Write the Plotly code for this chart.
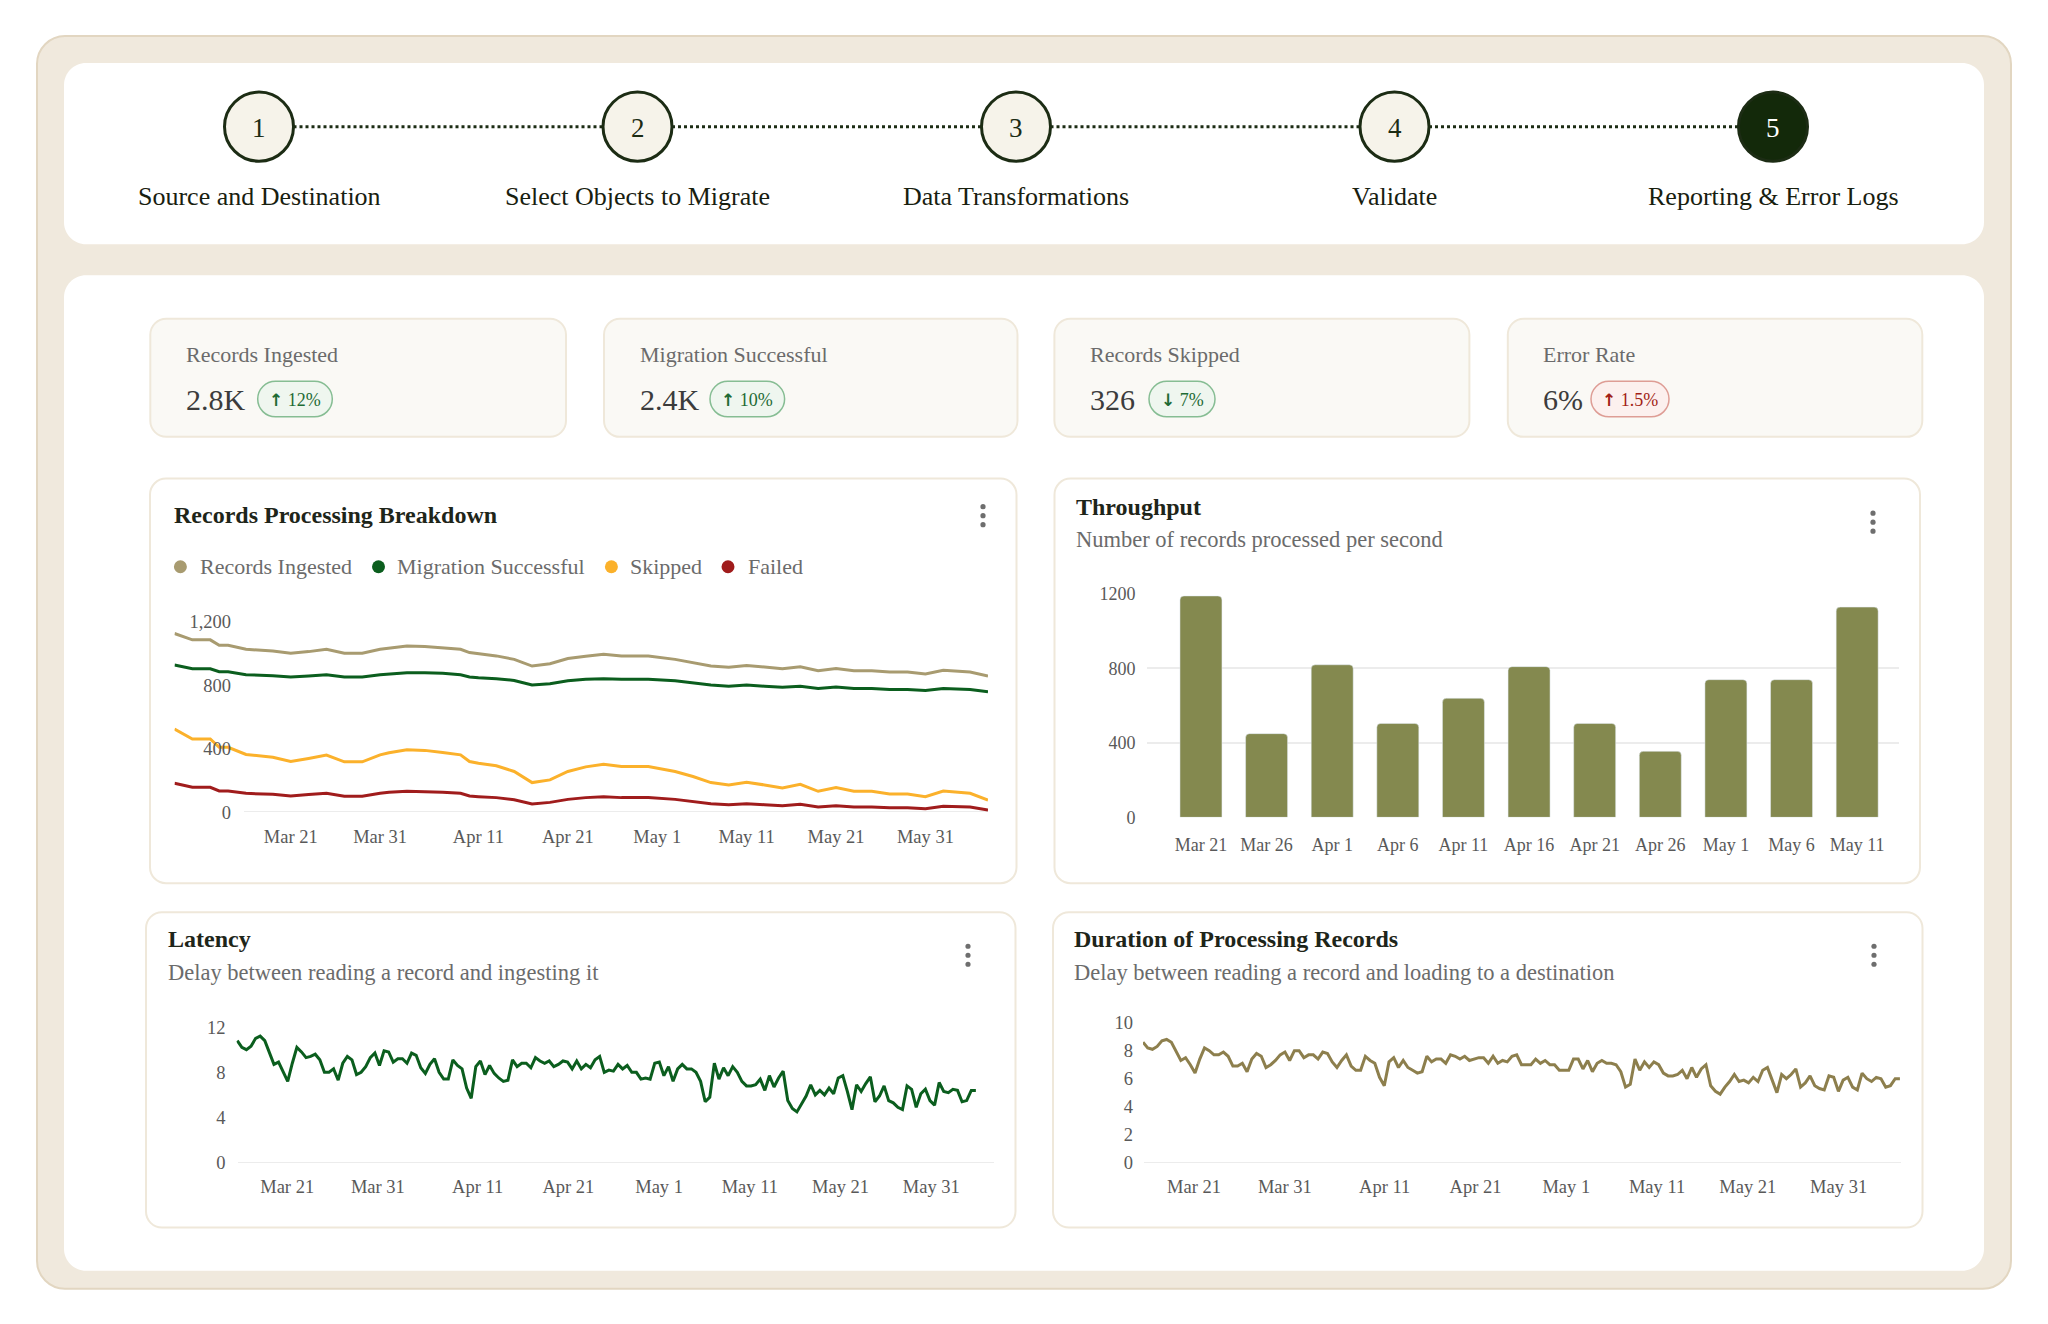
import plotly.graph_objects as go
import pandas as pd

W, H = 2048, 1324
FIG_H = 1324
# the photographed page comes out with a small vertical offset and squeeze; compensate
Y_OFF, Y_SCALE = 11.0, 0.9836
TEXT_LIFT = 0.0
FONT = "Liberation Serif"

# ---------------- data ----------------
steps = ["Source and Destination", "Select Objects to Migrate", "Data Transformations",
         "Validate", "Reporting & Error Logs"]
active_step = 5

kpi_labels = ["Records Ingested", "Migration Successful", "Records Skipped", "Error Rate"]
kpi_values = ["2.8K", "2.4K", "326", "6%"]
kpi_change_dir = ["up", "up", "down", "up"]
kpi_change_pct = ["12%", "10%", "7%", "1.5%"]
kpi_positive = [True, True, True, False]

series_names = ["Records Ingested", "Migration Successful", "Skipped", "Failed"]

records_dates = [
    "2024-03-08", "2024-03-10", "2024-03-12", "2024-03-13", "2024-03-14", "2024-03-16",
    "2024-03-19", "2024-03-21", "2024-03-23", "2024-03-25", "2024-03-27", "2024-03-29",
    "2024-03-31", "2024-04-01", "2024-04-03", "2024-04-05", "2024-04-07", "2024-04-09",
    "2024-04-10", "2024-04-11", "2024-04-13", "2024-04-15", "2024-04-17", "2024-04-19",
    "2024-04-21", "2024-04-23", "2024-04-25", "2024-04-27", "2024-04-30", "2024-05-03",
    "2024-05-05", "2024-05-07", "2024-05-09", "2024-05-11", "2024-05-13", "2024-05-15",
    "2024-05-17", "2024-05-19", "2024-05-21", "2024-05-23", "2024-05-25", "2024-05-27",
    "2024-05-29", "2024-05-31", "2024-06-02", "2024-06-05", "2024-06-07"]
records_ingested = [1126, 1086, 1086, 1052, 1052, 1027, 1016, 1002, 1012, 1027, 1002, 1002,
                    1027, 1035, 1048, 1044, 1035, 1027, 1006, 999, 985, 963, 921, 936,
                    968, 983, 995, 985, 985, 963, 942, 921, 913, 925, 915, 904,
                    917, 892, 906, 892, 892, 883, 883, 871, 894, 883, 858]
migration_successful = [928, 904, 904, 885, 885, 866, 860, 852, 858, 866, 852, 852,
                        866, 871, 879, 879, 875, 866, 852, 847, 841, 830, 801, 809,
                        828, 837, 841, 837, 837, 828, 816, 801, 794, 801, 794, 788,
                        794, 780, 788, 780, 780, 773, 773, 767, 780, 773, 759]
skipped = [524, 461, 461, 408, 408, 363, 346, 319, 338, 359, 317, 317,
           361, 374, 393, 389, 376, 361, 319, 308, 292, 256, 186, 203,
           256, 285, 302, 287, 287, 256, 224, 186, 171, 188, 171, 152,
           175, 131, 154, 131, 131, 114, 114, 97, 133, 118, 76]
failed = [182, 156, 156, 133, 133, 118, 112, 101, 110, 118, 99, 99,
          118, 125, 131, 129, 125, 118, 101, 97, 91, 78, 51, 61,
          80, 91, 97, 91, 91, 80, 68, 53, 46, 53, 46, 40,
          49, 32, 40, 32, 32, 27, 27, 21, 36, 32, 13]

date_tick_values = ["2024-03-21", "2024-03-31", "2024-04-11", "2024-04-21",
                    "2024-05-01", "2024-05-11", "2024-05-21", "2024-05-31"]
date_tick_labels = ["Mar 21", "Mar 31", "Apr 11", "Apr 21", "May 1", "May 11", "May 21", "May 31"]

throughput_days = ["Mar 21", "Mar 26", "Apr 1", "Apr 6", "Apr 11", "Apr 16",
                   "Apr 21", "Apr 26", "May 1", "May 6", "May 11"]
throughput_values = [1190, 450, 820, 505, 640, 810, 505, 355, 740, 740, 1130]

latency = [10.8, 10.2, 10.0, 10.3, 11.0, 11.2, 10.8, 9.8, 8.7, 8.9, 8.0, 7.2, 8.8, 10.2, 9.8,
           9.3, 9.4, 9.6, 9.1, 8.0, 8.0, 8.3, 7.3, 8.8, 9.4, 9.1, 7.8, 8.0, 8.5, 9.3,
           9.7, 8.6, 9.9, 9.8, 8.9, 9.2, 9.2, 8.8, 9.7, 9.5, 8.4, 7.9, 8.7, 9.2, 8.0,
           7.4, 7.4, 9.1, 8.6, 8.3, 6.6, 5.7, 8.5, 9.0, 7.8, 8.6, 7.9, 7.5, 7.2, 7.3,
           9.1, 8.5, 8.8, 8.8, 8.4, 9.3, 9.0, 8.8, 9.0, 8.5, 8.7, 9.0, 8.9, 8.3, 9.0,
           8.3, 8.7, 8.4, 9.1, 9.4, 8.0, 8.2, 8.1, 8.7, 8.3, 8.6, 8.0, 8.0, 7.4, 7.5,
           7.4, 8.8, 8.9, 7.7, 8.5, 7.2, 8.3, 8.7, 8.3, 8.3, 8.0, 7.2, 5.4, 5.8, 8.8,
           7.4, 8.4, 7.7, 8.5, 8.0, 7.2, 6.8, 6.8, 6.9, 7.4, 6.4, 7.7, 6.7, 7.5, 8.1,
           5.5, 4.8, 4.5, 5.2, 5.9, 6.9, 6.0, 6.4, 6.0, 6.6, 6.1, 7.5, 7.7, 6.3, 4.7,
           6.9, 6.3, 7.0, 7.6, 5.4, 5.9, 6.8, 5.5, 5.3, 4.9, 4.7, 6.8, 6.5, 4.9, 6.1,
           6.5, 5.5, 5.1, 7.1, 6.3, 6.2, 6.5, 6.4, 5.4, 5.5, 6.4, 6.4]

duration = [8.6, 8.2, 8.1, 8.3, 8.7, 8.8, 8.6, 8.0, 7.3, 7.5, 7.0, 6.4, 7.4, 8.2, 8.0,
            7.7, 7.7, 7.9, 7.6, 6.9, 6.9, 7.1, 6.5, 7.4, 7.8, 7.6, 6.8, 7.0, 7.3, 7.7,
            7.9, 7.3, 8.0, 8.0, 7.5, 7.7, 7.7, 7.4, 7.9, 7.8, 7.2, 6.8, 7.3, 7.7, 6.9,
            6.6, 6.6, 7.6, 7.3, 7.1, 6.1, 5.5, 7.2, 7.5, 6.8, 7.3, 6.8, 6.6, 6.4, 6.5,
            7.6, 7.2, 7.4, 7.4, 7.1, 7.7, 7.6, 7.4, 7.6, 7.3, 7.4, 7.5, 7.5, 7.1, 7.6,
            7.1, 7.3, 7.2, 7.6, 7.7, 7.0, 7.0, 7.0, 7.4, 7.1, 7.3, 7.0, 7.0, 6.6, 6.6,
            6.6, 7.4, 7.4, 6.7, 7.3, 6.5, 7.1, 7.3, 7.1, 7.1, 7.0, 6.5, 5.4, 5.6, 7.4,
            6.6, 7.2, 6.8, 7.2, 7.0, 6.4, 6.2, 6.2, 6.3, 6.6, 6.0, 6.8, 6.1, 6.7, 7.0,
            5.5, 5.1, 4.9, 5.4, 5.8, 6.3, 5.8, 5.9, 5.7, 6.1, 5.8, 6.6, 6.8, 5.9, 5.0,
            6.3, 6.0, 6.3, 6.7, 5.4, 5.7, 6.2, 5.5, 5.3, 5.2, 6.2, 6.1, 5.1, 5.9, 6.1,
            5.4, 5.2, 6.4, 6.0, 5.8, 6.1, 6.0, 5.4, 5.5, 6.0, 6.0]

# ---------------- styling ----------------
C_TEXT = "#1e2519"
C_MUTED = "#6b6b6b"
C_TICK = "#595959"
C_LINES = ["#a89b70", "#0b5e1e", "#fbb12b", "#a01c1c"]
C_BAR = "#84894f"
C_LAT = "#0b5e1e"
C_DUR = "#8d7f4d"


def X(v):
    return v / W


def Y(v):
    return 1 - ((v - Y_OFF) / Y_SCALE) / FIG_H


def rrect(x0, y0, x1, y1, r):
    k = 0.4477
    f = lambda a, b: f"{X(a):.6f},{Y(b):.6f}"
    return " ".join([
        f"M {f(x0 + r, y0)}", f"L {f(x1 - r, y0)}",
        f"C {f(x1 - r * k, y0)} {f(x1, y0 + r * k)} {f(x1, y0 + r)}",
        f"L {f(x1, y1 - r)}",
        f"C {f(x1, y1 - r * k)} {f(x1 - r * k, y1)} {f(x1 - r, y1)}",
        f"L {f(x0 + r, y1)}",
        f"C {f(x0 + r * k, y1)} {f(x0, y1 - r * k)} {f(x0, y1 - r)}",
        f"L {f(x0, y0 + r)}",
        f"C {f(x0, y0 + r * k)} {f(x0 + r * k, y0)} {f(x0 + r, y0)}", "Z"])


shapes = []
anns = []


def box(x0, y0, x1, y1, r, fill, line, lw=1.5):
    shapes.append(dict(type="path", path=rrect(x0, y0, x1, y1, r), xref="paper", yref="paper",
                       fillcolor=fill, line=dict(color=line, width=lw), layer="below"))


def circ(cx, cy, r, fill, line=None, lw=0):
    shapes.append(dict(type="circle", xref="paper", yref="paper",
                       x0=X(cx - r), x1=X(cx + r), y0=Y(cy + r), y1=Y(cy - r),
                       fillcolor=fill, line=dict(color=line or fill, width=lw), layer="below"))


def txt(x, y, s, size, color, anchor="left", weight="normal", escape=True):
    anns.append(dict(x=X(x), y=Y(y - TEXT_LIFT), xref="paper", yref="paper",
                     text=s.replace("&", "&amp;") if escape else s,
                     showarrow=False, xanchor=anchor, yanchor="middle", borderpad=0,
                     font=dict(family=FONT, size=size, color=color, weight=weight)))


# background panels
box(37, 37, 2011, 1288, 28, "#f0e9dd", "#e2d6c1", 2)
box(64, 64, 1984, 245, 22, "#ffffff", "#ffffff", 0)
box(64, 276, 1984, 1270, 22, "#ffffff", "#ffffff", 0)

# stepper
step_x = [259, 637.5, 1016, 1394.5, 1773]
step_r = 34.5
for i in range(len(step_x) - 1):
    shapes.append(dict(type="line", xref="paper", yref="paper",
                       x0=X(step_x[i] + step_r), x1=X(step_x[i + 1] - step_r), y0=Y(127.5), y1=Y(127.5),
                       line=dict(color="#1c2c14", width=3, dash="dot")))
for i, (sx, name) in enumerate(zip(step_x, steps)):
    active = (i + 1) == active_step
    circ(sx, 127.5, step_r, "#13290a" if active else "#f6f3ea", "#1c2c14", 3)
    txt(sx, 128.5, str(i + 1), 27, "#ffffff" if active else "#1c2c14", "center")
    txt(sx, 197, name, 26, "#18200f", "center")

# KPI cards
kpi_cards = [(150.3, 566), (604, 1017.5), (1054.4, 1469.4), (1507.8, 1922.3)]
badge_x = [(257.7, 332.3), (710, 784.6), (1149, 1215), (1591, 1669)]
for (cx0, cx1), (bx0, bx1), lab, val, d, pct, good in zip(
        kpi_cards, badge_x, kpi_labels, kpi_values, kpi_change_dir, kpi_change_pct, kpi_positive):
    box(cx0, 319.3, cx1, 437.3, 16, "#faf9f5", "#efe8da", 2)
    txt(cx0 + 34.5, 355, lab, 22, C_MUTED)
    txt(cx0 + 34.5, 400, val, 30, "#3c3c3c")
    box(bx0, 381.7, bx1, 417.3, 17.8, "#eff6ef" if good else "#fcf0ee",
        "#86bd93" if good else "#de9d95", 1.5)
    arrow = "↑" if d == "up" else "↓"
    label = (f"<span style=\"font-family:'DejaVu Sans';font-weight:bold;font-size:17px\">{arrow}</span>"
             f"&nbsp;{pct}")
    txt((bx0 + bx1) / 2, 400, label, 18, "#1e6b34" if good else "#a21f16", "center", escape=False)

# chart cards
cards = {"A": (150, 479, 1016.5, 883), "B": (1054.5, 479, 1920, 883),
         "C": (146, 912, 1015.5, 1227), "D": (1053, 912, 1922.5, 1227)}
for c in cards.values():
    box(*c, 16, "#ffffff", "#efe8da", 2)

# menu dots
for mx, my in [(983, 516), (1873, 522.5), (968, 955), (1874, 955)]:
    for dy in (-9, 0, 9):
        circ(mx, my + dy, 2.6, "#6e6e6e")

# titles
txt(173, 515, "Records Processing Breakdown", 24, C_TEXT, weight="bold")
txt(1075, 507, "Throughput", 24, C_TEXT, weight="bold")
txt(1075, 540, "Number of records processed per second", 22.5, C_MUTED)
txt(167, 939, "Latency", 24, C_TEXT, weight="bold")
txt(167, 972, "Delay between reading a record and ingesting it", 22.5, C_MUTED)
txt(1073, 939, "Duration of Processing Records", 24, C_TEXT, weight="bold")
txt(1073, 972, "Delay between reading a record and loading to a destination", 22.5, C_MUTED)

# legend for chart A
for (dx, tx), name, col in zip([(180.4, 199), (378.5, 396), (611.4, 629), (728, 747)],
                               series_names, C_LINES):
    circ(dx, 567, 6.5, col)
    txt(tx, 567, name, 22, C_MUTED)

fig = go.Figure()

# chart A lines
for name, vals, col in zip(series_names,
                           [records_ingested, migration_successful, skipped, failed], C_LINES):
    fig.add_trace(go.Scatter(x=pd.to_datetime(records_dates), y=vals, mode="lines", name=name,
                             line=dict(color=col, width=3), xaxis="x", yaxis="y"))

# chart B bars
fig.add_trace(go.Bar(x=throughput_days, y=throughput_values, marker=dict(color=C_BAR, cornerradius=4),
                     xaxis="x2", yaxis="y2", name="Throughput"))

# chart C latency
lat_dates = pd.date_range("2024-03-15 12:00", "2024-06-04 22:00", periods=len(latency))
fig.add_trace(go.Scatter(x=lat_dates, y=latency, mode="lines", line=dict(color=C_LAT, width=3),
                         xaxis="x3", yaxis="y3", name="Latency"))

# chart D duration
dur_dates = pd.date_range("2024-03-15 09:00", "2024-06-06 18:00", periods=len(duration))
fig.add_trace(go.Scatter(x=dur_dates, y=duration, mode="lines", line=dict(color=C_DUR, width=3),
                         xaxis="x4", yaxis="y4", name="Duration"))

# baselines
for yref, xa, xb in [("y", 244, 988), ("y3", 238, 994), ("y4", 1144, 1901)]:
    shapes.append(dict(type="line", xref="paper", yref=yref, x0=X(xa), x1=X(xb), y0=0, y1=0,
                       line=dict(color="#e6e6e6", width=1.5), layer="below"))

tickfont = dict(family=FONT, size=18.5, color=C_TICK)
common_x = dict(showgrid=False, zeroline=False, showline=False, ticks="", tickfont=tickfont,
                tickvals=pd.to_datetime(date_tick_values), ticktext=date_tick_labels,
                fixedrange=True)
common_y = dict(showgrid=False, zeroline=False, showline=False, ticks="", tickfont=tickfont,
                fixedrange=True)

fig.update_layout(
    width=W, height=FIG_H, margin=dict(l=0, r=0, t=0, b=0), autosize=False,
    paper_bgcolor="#ffffff", plot_bgcolor="rgba(0,0,0,0)", showlegend=False,
    bargap=0.36,
    xaxis=dict(domain=[X(174.5), X(988)], anchor="y", ticklabelstandoff=11,
               range=[pd.Timestamp("2024-03-08"), pd.Timestamp("2024-06-07")], **common_x),
    yaxis=dict(domain=[Y(812), Y(622)], anchor="free", position=X(241), range=[0, 1200],
               tickvals=[0, 400, 800, 1200], tickformat=",", ticklabelstandoff=10, **common_y),
    xaxis2=dict(domain=[X(1146.5), X(1898.5)], anchor="y2", range=[-0.83, 10.63], type="category",
                showgrid=False, zeroline=False, showline=False, ticks="",
                tickfont=dict(family=FONT, size=18, color=C_TICK),
                ticklabelstandoff=15, fixedrange=True),
    yaxis2=dict(domain=[Y(817.3), Y(594.3)], anchor="x2", range=[0, 1200],
                tickvals=[0, 400, 800, 1200], tickformat="d", showgrid=True, gridcolor="#ececec",
                gridwidth=1.5, zeroline=False, showline=False, ticks="",
                tickfont=dict(family=FONT, size=18, color=C_TICK),
                ticklabelstandoff=10, fixedrange=True),
    xaxis3=dict(domain=[X(236.5), X(994)], anchor="y3", ticklabelstandoff=11,
                range=[pd.Timestamp("2024-03-15 10:00"), pd.Timestamp("2024-06-06 22:00")], **common_x),
    yaxis3=dict(domain=[Y(1162.3), Y(1026.7)], anchor="x3", range=[0, 12],
                tickvals=[0, 4, 8, 12], ticklabelstandoff=10, **common_y),
    xaxis4=dict(domain=[X(1143), X(1902)], anchor="y4", ticklabelstandoff=11,
                range=[pd.Timestamp("2024-03-15 09:00"), pd.Timestamp("2024-06-06 23:30")], **common_x),
    yaxis4=dict(domain=[Y(1162.3), Y(1022.3)], anchor="x4", range=[0, 10],
                tickvals=[0, 2, 4, 6, 8, 10], ticklabelstandoff=9, **common_y),
    shapes=shapes, annotations=anns,
    font=dict(family=FONT),
)

fig.write_html("out.html")
